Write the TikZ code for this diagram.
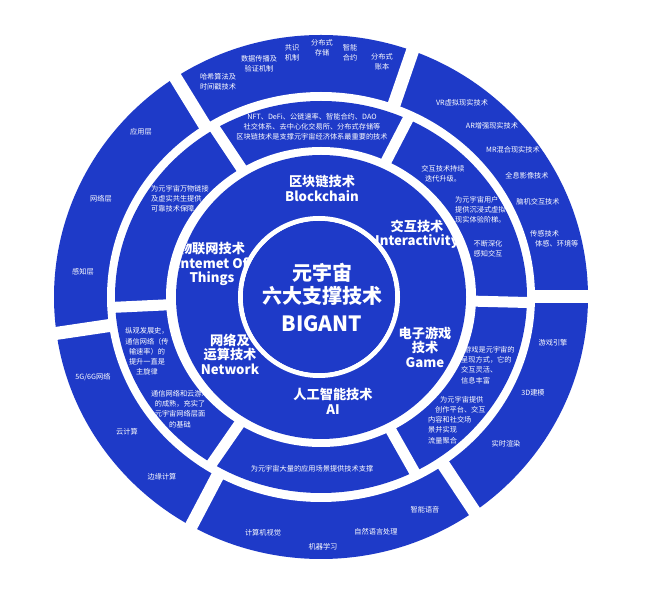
\documentclass[tikz,border=0pt]{standalone}
\usepackage{fontspec}
\setmainfont{Noto Sans CJK SC}
\usetikzlibrary{calc}
\definecolor{bl}{RGB}{30,58,200}
\begin{document}
\begin{tikzpicture}[x=1pt,y=1pt,
  sm/.style={text=white,font=\fontsize{7.2}{10.2}\selectfont,align=center,inner sep=0pt},
  sml/.style={sm,align=left,anchor=west},
  mid/.style={text=white,font=\bfseries\fontsize{13.2}{14.5}\selectfont,align=center,inner sep=0pt},
  core/.style={text=white,font=\bfseries\fontsize{20}{22}\selectfont,inner sep=0pt},
  gapout/.style={white,line width=13pt},
  gapin/.style={white,line width=11pt}]
\fill[white] (0,0) rectangle (646,608);
\useasboundingbox (0,0) rectangle (646,608);
\coordinate (C) at (321,311);
\coordinate (D) at (319,311);
% outer ring
\fill[bl] (C) ellipse [x radius=267, y radius=262];
\node[sm] (o1) at (218,526.5) {哈希算法及\\时间戳技术};
\node[sm] (o2) at (259,544) {数据传播及\\验证机制};
\node[sm] (o3) at (292,555) {共识\\机制};
\node[sm] (o4) at (322,560) {分布式\\存储};
\node[sm] (o5) at (350,555) {智能\\合约};
\node[sm] (o6) at (382,546) {分布式\\账本};
\node[sm] (o7) at (462,505) {VR虚拟现实技术};
\node[sm] (o8) at (492,482) {AR增强现实技术};
\node[sm] (o9) at (513,458) {MR混合现实技术};
\node[sm] (o10) at (527,432) {全息影像技术};
\node[sm] (o11) at (538,406) {脑机交互技术};
\node[sml] (o12) at (530,369) {传感技术\\\hspace*{5pt}体感、环境等};
\node[sm] (o13) at (141,476) {应用层};
\node[sm] (o14) at (101,409) {网络层};
\node[sm] (o15) at (83,336) {感知层};
\node[sm] (o16) at (93,231) {5G/6G网络};
\node[sm] (o17) at (127,176) {云计算};
\node[sm] (o18) at (162,131) {边缘计算};
\node[sm] (o19) at (553,265) {游戏引擎};
\node[sm] (o20) at (533,215) {3D建模};
\node[sm] (o21) at (506,164) {实时渲染};
\node[sm] (o22) at (425,98) {智能语音};
\node[sm] (o23) at (376,76) {自然语言处理};
\node[sm] (o24) at (323,61) {机器学习};
\node[sm] (o25) at (263,75) {计算机视觉};
\foreach \a in {123,70,0,-55,-119,-172}
  \draw[gapout] ($(C)+(\a:209 and 200)$) -- ($(C)+(\a:280 and 275)$);
% third ring
\fill[white] (C) ellipse [x radius=214, y radius=205];
\fill[bl] (C) ellipse [x radius=206, y radius=196];
\node[sm] (t1) at (312,481) {NFT、DeFi、公链速率、智能合约、DAO\\社交体系、去中心化交易所、分布式存储等\\区块链技术是支撑元宇宙经济体系最重要的技术};
\node[sm] (t2) at (443,434) {交互技术持续\\迭代升级。};
\node[sml] (t3) at (455,398) {为元宇宙用户\\提供沉浸式虚拟\\现实体验阶梯。};
\node[sm] (t4) at (488,359) {不断深化\\感知交互};
\node[sml] (t5) at (151,409) {为元宇宙万物链接\\及虚实共生提供\\可靠技术保障};
\node[sm] (t6) at (147,256.5) {纵观发展史，\\通信网络（传\\输速率）的\\提升一直是\\主旋律};
\node[sm] (t7) at (180,199) {通信网络和云游戏\\的成熟，充实了\\元宇宙网络层面\\的基础};
\node[sml] (t8) at (461,243) {\hspace*{3pt}游戏是元宇宙的\\呈现方式，它的\\交互灵活、\\信息丰富};
\node[sml] (t9) at (428,188) {\hspace*{12pt}为元宇宙提供\\\hspace*{7pt}创作平台、交互\\内容和社交场\\景并实现\\流量聚合};
\node[sm] (t10) at (312,139) {为元宇宙大量的应用场景提供技术支撑};
\foreach \a in {121,65,-1.6,-63,-122,-177}
  \draw[gapin] ($(C)+(\a:150 and 146)$) -- ($(C)+(\a:210 and 200)$);
% middle ring
\fill[white] (C) ellipse [x radius=155, y radius=150];
\fill[bl] (C) ellipse [x radius=145, y radius=142];
\begin{scope}
\clip (C) ellipse [x radius=145, y radius=142];
\node[mid] (bc) at (322,419.5) {区块链技术\\Blockchain};
\node[mid] (ia) at (417,374) {交互技术\\Interactivity};
\node[mid] (iot) at (212,344) {物联网技术\\Intemet Of\\Things};
\node[mid] (nw) at (230,254) {网络及\\运算技术\\Network};
\node[mid] (gm) at (425,261) {电子游戏\\技术\\Game};
\node[mid] (ai) at (333,206.5) {人工智能技术\\AI};
\end{scope}
% inner disc
\draw[white,line width=5pt] (D) circle (78.5);
\fill[bl] (D) circle (76);
\node[core] (c1) at (322,335) {元宇宙};
\node[core] (c2) at (322,312) {六大支撑技术};
\node[core,font=\bfseries\fontsize{21}{22}\selectfont] (c3) at (322,284) {BIGANT};
\end{tikzpicture}
\end{document}
